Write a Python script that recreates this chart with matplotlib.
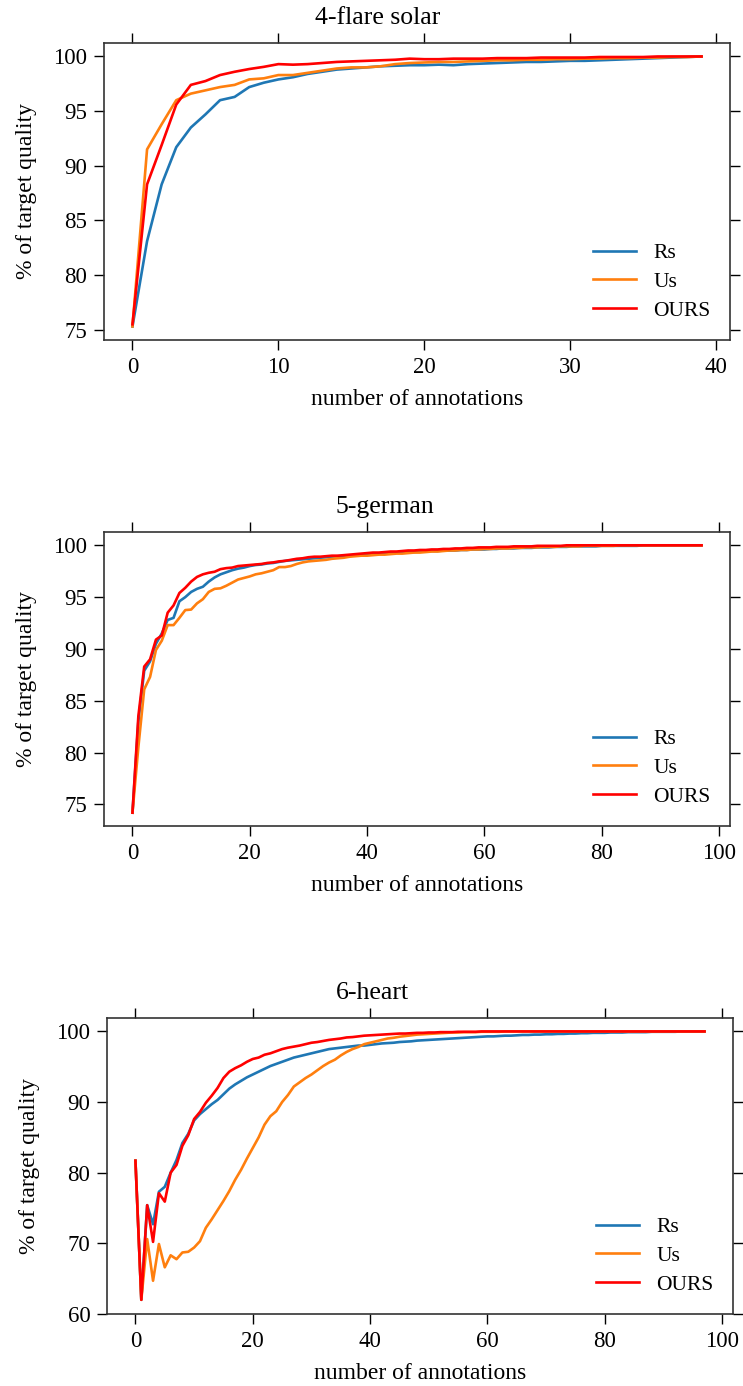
import numpy as np
import matplotlib
matplotlib.use("Agg")
import matplotlib.pyplot as plt

plt.rcParams['font.family'] = ['Liberation Serif', 'DejaVu Serif']
plt.rcParams['mathtext.fontset'] = 'stix'

# nombres de las series y titulos
series = ['Rs', 'Us', 'OURS']
colores = ['#1f77b4', '#ff7f0e', '#ff0000']
titulos = ['4-flare solar', '5-german', '6-heart']

# 4-flare solar (x = 0..39)
rs1 = [75.3, 83.1, 88.3, 91.7, 93.5, 94.7, 96.0, 96.3, 97.2, 97.6,
       97.9, 98.1, 98.4, 98.6, 98.8, 98.9, 99.0, 99.1, 99.15, 99.2,
       99.2, 99.25, 99.2, 99.3, 99.35, 99.4, 99.45, 99.5, 99.5, 99.55,
       99.6, 99.6, 99.65, 99.7, 99.75, 99.8, 99.85, 99.9, 99.95, 100.0]
us1 = [75.3, 91.5, 93.8, 96.0, 96.6, 96.9, 97.2, 97.4, 97.9, 98.0,
       98.3, 98.3, 98.5, 98.7, 98.9, 99.0, 99.0, 99.1, 99.3, 99.4,
       99.45, 99.5, 99.5, 99.55, 99.6, 99.65, 99.65, 99.7, 99.7, 99.75,
       99.75, 99.8, 99.8, 99.85, 99.85, 99.9, 99.9, 99.95, 99.95, 100.0]
ours1 = [75.5, 88.3, 91.9, 95.6, 97.4, 97.75, 98.3, 98.6, 98.85, 99.05,
         99.3, 99.25, 99.3, 99.4, 99.5, 99.55, 99.6, 99.65, 99.7, 99.8,
         99.75, 99.75, 99.8, 99.8, 99.8, 99.85, 99.85, 99.85, 99.9, 99.9,
         99.9, 99.9, 99.95, 99.95, 99.95, 99.95, 100.0, 100.0, 100.0, 100.0]

# 5-german (x = 0..97)
rs2 = [74.2, 83.0, 87.9, 88.8, 90.5, 91.5, 92.8, 93.0, 94.6, 95.0,
       95.5, 95.8, 96.0, 96.5, 96.9, 97.2, 97.4, 97.6, 97.75, 97.85,
       98.0, 98.1, 98.15, 98.25, 98.3, 98.4, 98.5, 98.55, 98.6, 98.65,
       98.7, 98.75, 98.8, 98.85, 98.9, 98.95, 98.95, 99.0, 99.05, 99.1,
       99.1, 99.15, 99.2, 99.2, 99.25, 99.3, 99.3, 99.35, 99.35, 99.4,
       99.4, 99.45, 99.45, 99.5, 99.5, 99.5, 99.55, 99.55, 99.6, 99.6,
       99.6, 99.65, 99.65, 99.7, 99.7, 99.7, 99.75, 99.75, 99.75, 99.8,
       99.8, 99.8, 99.85, 99.85, 99.85, 99.9, 99.9, 99.9, 99.9, 99.9,
       99.95, 99.95, 99.95, 99.95, 99.95, 99.95, 99.95, 100.0, 100.0, 100.0,
       100.0, 100.0, 100.0, 100.0, 100.0, 100.0, 100.0, 100.0]
us2 = [74.2, 80.5, 86.1, 87.3, 89.9, 90.8, 92.3, 92.3, 93.0, 93.75,
       93.8, 94.4, 94.8, 95.5, 95.8, 95.85, 96.1, 96.4, 96.7, 96.85,
       97.0, 97.2, 97.3, 97.45, 97.6, 97.9, 97.9, 98.0, 98.2, 98.35,
       98.45, 98.5, 98.55, 98.6, 98.7, 98.75, 98.8, 98.9, 98.95, 99.0,
       99.0, 99.05, 99.1, 99.1, 99.15, 99.2, 99.2, 99.25, 99.3, 99.3,
       99.35, 99.4, 99.4, 99.45, 99.5, 99.5, 99.55, 99.55, 99.6, 99.6,
       99.65, 99.65, 99.7, 99.7, 99.7, 99.75, 99.75, 99.8, 99.8, 99.8,
       99.85, 99.85, 99.85, 99.9, 99.9, 99.9, 99.9, 99.95, 99.95, 99.95,
       99.95, 99.95, 99.95, 100.0, 100.0, 100.0, 100.0, 100.0, 100.0, 100.0,
       100.0, 100.0, 100.0, 100.0, 100.0, 100.0, 100.0, 100.0]
ours2 = [74.2, 83.5, 88.3, 89.0, 90.9, 91.3, 93.5, 94.2, 95.4, 95.9,
         96.5, 96.95, 97.2, 97.35, 97.45, 97.7, 97.8, 97.85, 98.0, 98.05,
         98.1, 98.15, 98.2, 98.3, 98.35, 98.45, 98.5, 98.6, 98.7, 98.75,
         98.85, 98.9, 98.9, 98.95, 99.0, 99.0, 99.05, 99.1, 99.15, 99.2,
         99.25, 99.3, 99.3, 99.35, 99.4, 99.4, 99.45, 99.5, 99.5, 99.55,
         99.55, 99.6, 99.6, 99.65, 99.65, 99.7, 99.7, 99.75, 99.75, 99.8,
         99.8, 99.8, 99.85, 99.85, 99.85, 99.9, 99.9, 99.9, 99.9, 99.95,
         99.95, 99.95, 99.95, 99.95, 100.0, 100.0, 100.0, 100.0, 100.0, 100.0,
         100.0, 100.0, 100.0, 100.0, 100.0, 100.0, 100.0, 100.0, 100.0, 100.0,
         100.0, 100.0, 100.0, 100.0, 100.0, 100.0, 100.0, 100.0]

# 6-heart (x = 0..97)
rs3 = [81.7, 62.0, 75.4, 72.7, 77.3, 78.0, 80.0, 81.8, 84.2, 85.5,
       87.4, 88.3, 89.0, 89.7, 90.3, 91.1, 91.9, 92.5, 93.0, 93.5,
       93.9, 94.3, 94.7, 95.1, 95.4, 95.7, 96.0, 96.3, 96.5, 96.7,
       96.9, 97.1, 97.3, 97.5, 97.6, 97.7, 97.8, 97.9, 98.0, 98.0,
       98.1, 98.2, 98.3, 98.35, 98.4, 98.5, 98.55, 98.6, 98.7, 98.75,
       98.8, 98.85, 98.9, 98.95, 99.0, 99.05, 99.1, 99.15, 99.2, 99.25,
       99.3, 99.3, 99.35, 99.4, 99.4, 99.45, 99.5, 99.5, 99.55, 99.55,
       99.6, 99.6, 99.65, 99.65, 99.7, 99.7, 99.75, 99.75, 99.8, 99.8,
       99.8, 99.85, 99.85, 99.85, 99.9, 99.9, 99.9, 99.9, 99.95, 99.95,
       99.95, 99.95, 99.95, 100.0, 100.0, 100.0, 100.0, 100.0]
us3 = [81.7, 62.0, 70.6, 64.7, 69.9, 66.6, 68.3, 67.75, 68.7, 68.8,
       69.4, 70.3, 72.2, 73.4, 74.7, 76.0, 77.4, 79.0, 80.4, 82.0,
       83.5, 85.0, 86.8, 88.0, 88.7, 90.0, 91.0, 92.2, 92.8, 93.4,
       93.9, 94.5, 95.1, 95.6, 96.0, 96.6, 97.1, 97.5, 97.8, 98.2,
       98.4, 98.6, 98.8, 99.0, 99.1, 99.25, 99.35, 99.45, 99.55, 99.6,
       99.65, 99.7, 99.75, 99.8, 99.85, 99.85, 99.9, 99.9, 99.9, 99.95,
       99.95, 99.95, 99.95, 100.0, 100.0, 100.0, 100.0, 100.0, 100.0, 100.0,
       100.0, 100.0, 100.0, 100.0, 100.0, 100.0, 100.0, 100.0, 100.0, 100.0,
       100.0, 100.0, 100.0, 100.0, 100.0, 100.0, 100.0, 100.0, 100.0, 100.0,
       100.0, 100.0, 100.0, 100.0, 100.0, 100.0, 100.0, 100.0]
ours3 = [81.7, 62.0, 75.4, 70.2, 77.1, 75.9, 80.0, 81.1, 83.8, 85.3,
         87.6, 88.6, 89.9, 90.9, 92.0, 93.4, 94.3, 94.8, 95.2, 95.7,
         96.1, 96.3, 96.7, 96.9, 97.2, 97.5, 97.7, 97.85, 98.0, 98.2,
         98.4, 98.5, 98.65, 98.8, 98.9, 99.0, 99.15, 99.2, 99.3, 99.4,
         99.45, 99.5, 99.55, 99.6, 99.65, 99.7, 99.7, 99.75, 99.8, 99.8,
         99.85, 99.85, 99.9, 99.9, 99.9, 99.95, 99.95, 99.95, 99.95, 100.0,
         100.0, 100.0, 100.0, 100.0, 100.0, 100.0, 100.0, 100.0, 100.0, 100.0,
         100.0, 100.0, 100.0, 100.0, 100.0, 100.0, 100.0, 100.0, 100.0, 100.0,
         100.0, 100.0, 100.0, 100.0, 100.0, 100.0, 100.0, 100.0, 100.0, 100.0,
         100.0, 100.0, 100.0, 100.0, 100.0, 100.0, 100.0, 100.0]

datos = [(rs1, us1, ours1), (rs2, us2, ours2), (rs3, us3, ours3)]
xticks = [[0, 10, 20, 30, 40], [0, 20, 40, 60, 80, 100], [0, 20, 40, 60, 80, 100]]
yticks = [[75, 80, 85, 90, 95, 100], [75, 80, 85, 90, 95, 100], [60, 70, 80, 90, 100]]

# posiciones de los ejes [izq, abajo, ancho, alto]
cajas = [[0.140, 0.7547, 0.8425, 0.2143],
         [0.140, 0.4040, 0.8425, 0.2122],
         [0.144, 0.0520, 0.8425, 0.2135]]
# centro horizontal de cada titulo (fraccion de la figura)
centro_titulo = [0.509, 0.518, 0.501]

fig = plt.figure(figsize=(7.43, 13.86), dpi=100)

for k in range(3):
    ax = fig.add_axes(cajas[k])
    for serie, nombre, c in zip(datos[k], series, colores):
        x = np.arange(len(serie))
        ax.plot(x, serie, color=c, lw=1.9, label=nombre)
    xt = (centro_titulo[k] - cajas[k][0]) / cajas[k][2]
    ax.set_title(titulos[k], fontsize=18.5, pad=14, x=xt)
    ax.set_xlabel('number of annotations', fontsize=17, labelpad=8)
    ax.set_ylabel('% of target quality', fontsize=17, labelpad=12)
    ax.set_xticks(xticks[k])
    ax.set_yticks(yticks[k])
    ax.tick_params(direction='out', length=7, width=1, labelsize=16.5, pad=5,
                   top=True, right=True, labeltop=False, labelright=False)
    for s in ax.spines.values():
        s.set_color('#333333')
        s.set_linewidth(1.2)
    ax.legend(loc='lower right', frameon=False, fontsize=15.5,
              handlelength=2.0, labelspacing=0.4)

fig.savefig('out.png', dpi=100)
